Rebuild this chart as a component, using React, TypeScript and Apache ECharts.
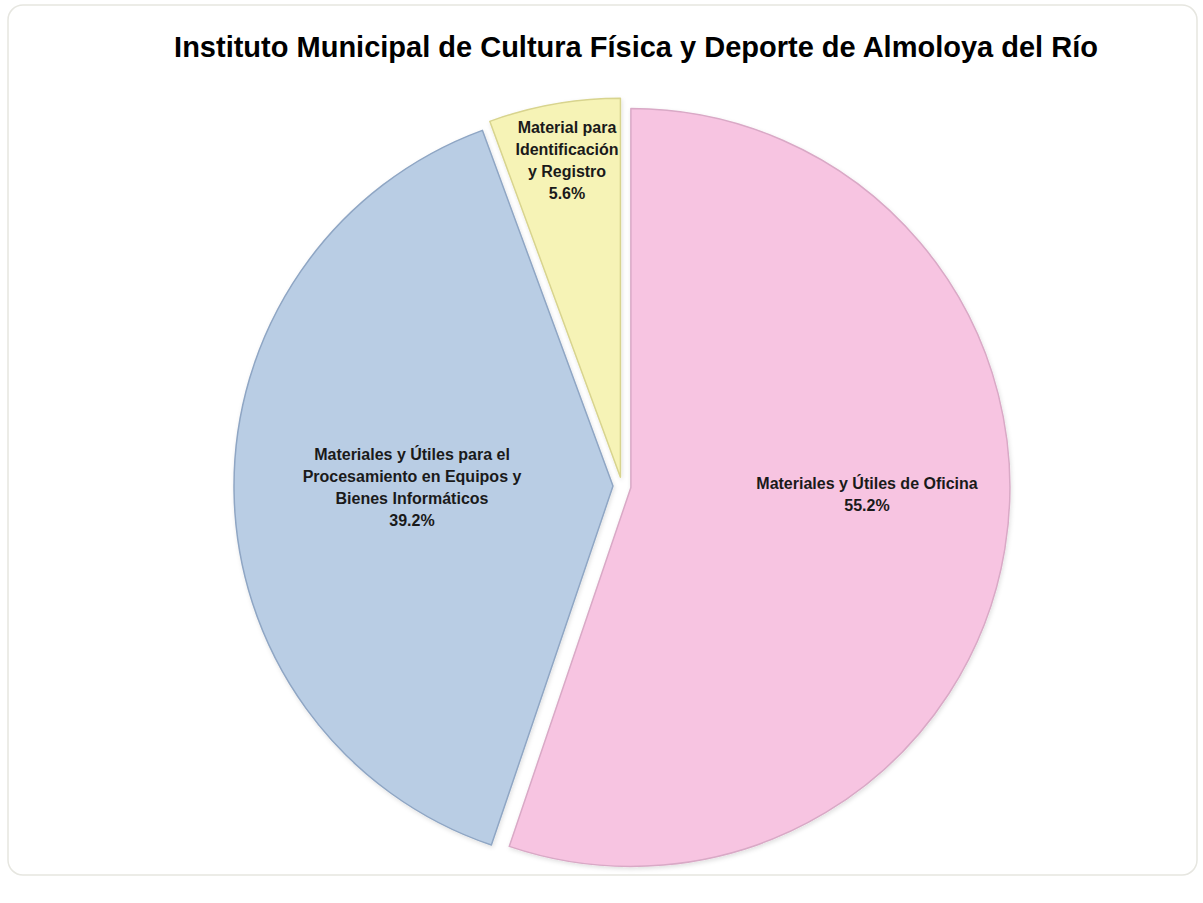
import React, { useEffect, useRef } from "react";
import * as echarts from "echarts";

const titleText = "Instituto Municipal de Cultura Física y Deporte de Almoloya del Río";
const categories = [
  "Materiales y Útiles de Oficina",
  "Materiales y Útiles para el Procesamiento en Equipos y Bienes Informáticos",
  "Material para Identificación y Registro",
];
const labelTexts = [
  "Materiales y Útiles de Oficina",
  "Materiales y Útiles para el\nProcesamiento en Equipos y\nBienes Informáticos",
  "Material para\nIdentificación\ny Registro",
];
const values = [55.2, 39.2, 5.6];
const colors = ["#F7C4E1", "#B9CDE4", "#F6F3B6"];
const borderColors = ["#D9A9C6", "#8FA6C4", "#D8D48E"];
const labelPositions = [
  [867, 494],
  [412, 487],
  [567, 160],
];

export default function App() {
  const ref = useRef<HTMLDivElement>(null);
  useEffect(() => {
    document.body.style.margin = "0";
    const chart = echarts.init(ref.current!, undefined, { renderer: "svg" });
    const font = "'Liberation Sans Narrow', 'Arial Narrow', 'Liberation Sans', Arial, sans-serif";
    const total = values.reduce((a, b) => a + b, 0);
    chart.setOption({
      animation: false,
      backgroundColor: "#ffffff",
      title: {
        text: titleText,
        left: 631,
        top: 42,
        textAlign: "center",
        textVerticalAlign: "middle",
        textStyle: {
          fontFamily: font,
          fontSize: 29,
          fontWeight: "bold",
          color: "#000000",
        },
      },
      graphic: [
        {
          type: "rect",
          shape: { x: 8, y: 5, width: 1189, height: 870, r: 15 },
          style: { fill: "none", stroke: "#e6e6e0", lineWidth: 1.5 },
          silent: true,
          z: -1,
        },
        ...labelTexts.map((t, i) => ({
          type: "text",
          x: labelPositions[i][0],
          y: labelPositions[i][1],
          z: 100,
          silent: true,
          style: {
            text: `${t}\n${((values[i] / total) * 100).toFixed(1)}%`,
            fontFamily: font,
            fontSize: 16,
            fontWeight: "bold",
            lineHeight: 22,
            fill: "#1a1a1a",
            align: "center",
            verticalAlign: "middle",
          },
        })),
      ],
      series: [
        {
          type: "pie",
          center: [622, 486],
          radius: 379,
          startAngle: 90,
          clockwise: true,
          selectedMode: "multiple",
          selectedOffset: 9,
          avoidLabelOverlap: false,
          data: categories.map((name, i) => ({
            name,
            value: values[i],
            selected: true,
            itemStyle: {
              color: colors[i],
              borderColor: borderColors[i],
              borderWidth: 1.5,
            },
            select: {
              itemStyle: {
                color: colors[i],
                borderColor: borderColors[i],
                borderWidth: 1.5,
              },
            },
          })),
          itemStyle: {
            shadowColor: "rgba(0,0,0,0.12)",
            shadowBlur: 4,
            shadowOffsetX: 1,
            shadowOffsetY: 2,
          },
          label: { show: false },
          labelLine: { show: false },
          emphasis: { disabled: true },
        },
      ],
    });
    return () => chart.dispose();
  }, []);
  return <div ref={ref} style={{ width: 1203, height: 903 }} />;
}
